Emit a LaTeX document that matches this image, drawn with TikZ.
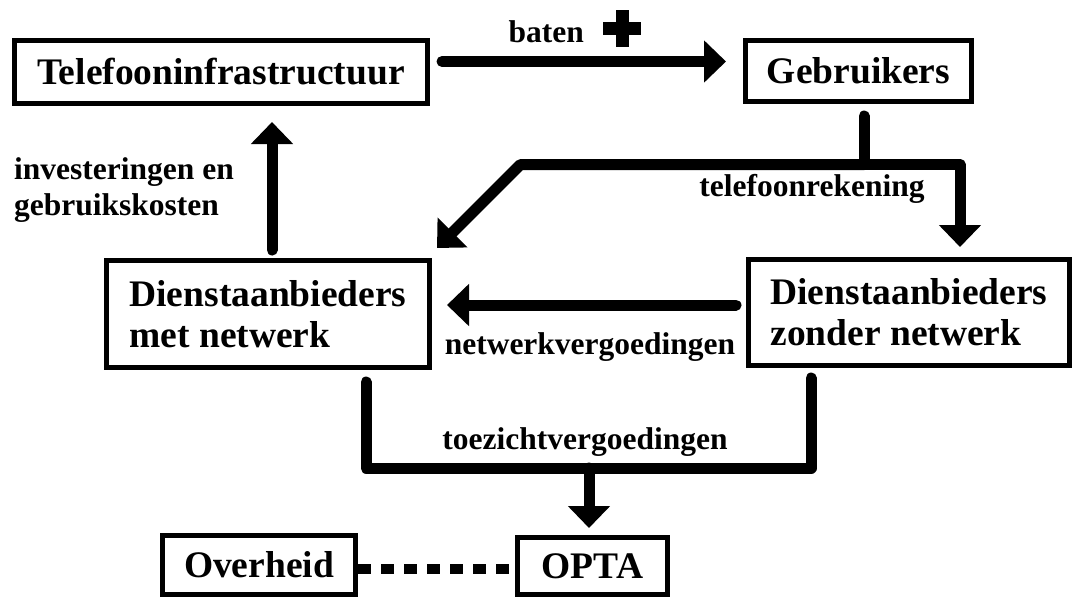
\documentclass[tikz,border=0pt]{standalone}
\usepackage{fontspec}
\setmainfont{Liberation Serif}
\usetikzlibrary{arrows.meta,calc}
\begin{document}
\begin{tikzpicture}[x=1pt,y=-1pt,
  box/.style={draw,line width=5pt,inner sep=0pt,align=left,
    font=\fontsize{37.5}{41}\selectfont\bfseries},
  lbl/.style={inner sep=0pt,font=\fontsize{31.5}{36}\selectfont\bfseries},
  flow/.style={line width=11pt,line cap=round,line join=round},
  arr/.style={flow,-{Triangle[length=22pt,width=41pt]}},
  link/.style={line width=10pt,dash pattern=on 13pt off 10pt}
]
\useasboundingbox (0,0) rectangle (1073,598);

% parties
\node[box,minimum width=413pt,minimum height=63pt]  (tel)  at (221,72)    {Telefooninfrastructuur};
\node[box,minimum width=226pt,minimum height=61pt]  (geb)  at (858.5,71)  {Gebruikers};
\node[box,minimum width=323pt,minimum height=107pt] (met)  at (268,314)   {Dienstaanbieders\\met netwerk};
\node[box,minimum width=321pt,minimum height=106pt] (zon)  at (909,312.5) {Dienstaanbieders\\zonder netwerk};
\node[box,minimum width=193pt,minimum height=59pt]  (ovh)  at (259,565)   {Overheid};
\node[box,minimum width=150pt,minimum height=57pt]  (opta) at (592.5,566) {OPTA};

% baten: infrastructure -> users
\coordinate (bS) at ([xshift=12pt,yshift=10.5pt]tel.east);
\draw[arr] (bS) -- ([xshift=-17pt]bS -| geb.west);
\node[lbl,anchor=base east] (lbaten) at (584,42) {baten};
\fill (603,22) rectangle (641,35);
\fill (615.5,10) rectangle (628.5,47);

% investments: providers with network -> infrastructure
\coordinate (iS) at ([xshift=4pt,yshift=8pt]met.north);
\draw[arr] (iS) -- ([yshift=-16pt]iS |- tel.south);
\node[lbl,align=left,anchor=north west] (linv) at (14,157) {investeringen en\\gebruikskosten};

% phone bill: users -> both kinds of providers
\coordinate (tS) at ([xshift=5.5pt,yshift=-12pt]geb.south);
\coordinate (tJ) at ([yshift=-48.5pt]tS);
\coordinate (tR) at ([xshift=51pt,yshift=10pt]zon.north);
\coordinate (tL) at ([xshift=5pt,yshift=10pt]met.north east);
\draw[flow] (tS) -- (tJ);
\draw[arr] (tJ) -| (tR);
\draw[arr] (tJ) -- ($(tL)+(83.5,-83.5)$) -- (tL);
\node[lbl,anchor=base] (ltel) at (812,196) {telefoonrekening};

% network fees
\coordinate (nS) at ([xshift=-10pt,yshift=7.5pt]zon.west);
\draw[arr] (nS) -- ([xshift=15pt]nS -| met.east);
\node[lbl,anchor=base] (lnet) at (590,354) {netwerkvergoedingen};

% supervision fees -> OPTA
\coordinate (zL) at ([xshift=98pt,yshift=-12pt]met.south);
\coordinate (zR) at ([xshift=-98pt,yshift=-10pt]zon.south);
\coordinate (zJ) at ([xshift=-3.5pt,yshift=67pt]opta.north);
\draw[flow] (zL) |- (zJ) -| (zR);
\draw[arr] (zJ) -- ([yshift=7pt]zJ |- opta.north);
\node[lbl,anchor=base] (ltoe) at (585,449) {toezichtvergoedingen};

% government -- OPTA
\coordinate (dS) at ([yshift=-4pt]ovh.east);
\draw[link] (dS) -- (dS -| opta.west);
\end{tikzpicture}
\end{document}
